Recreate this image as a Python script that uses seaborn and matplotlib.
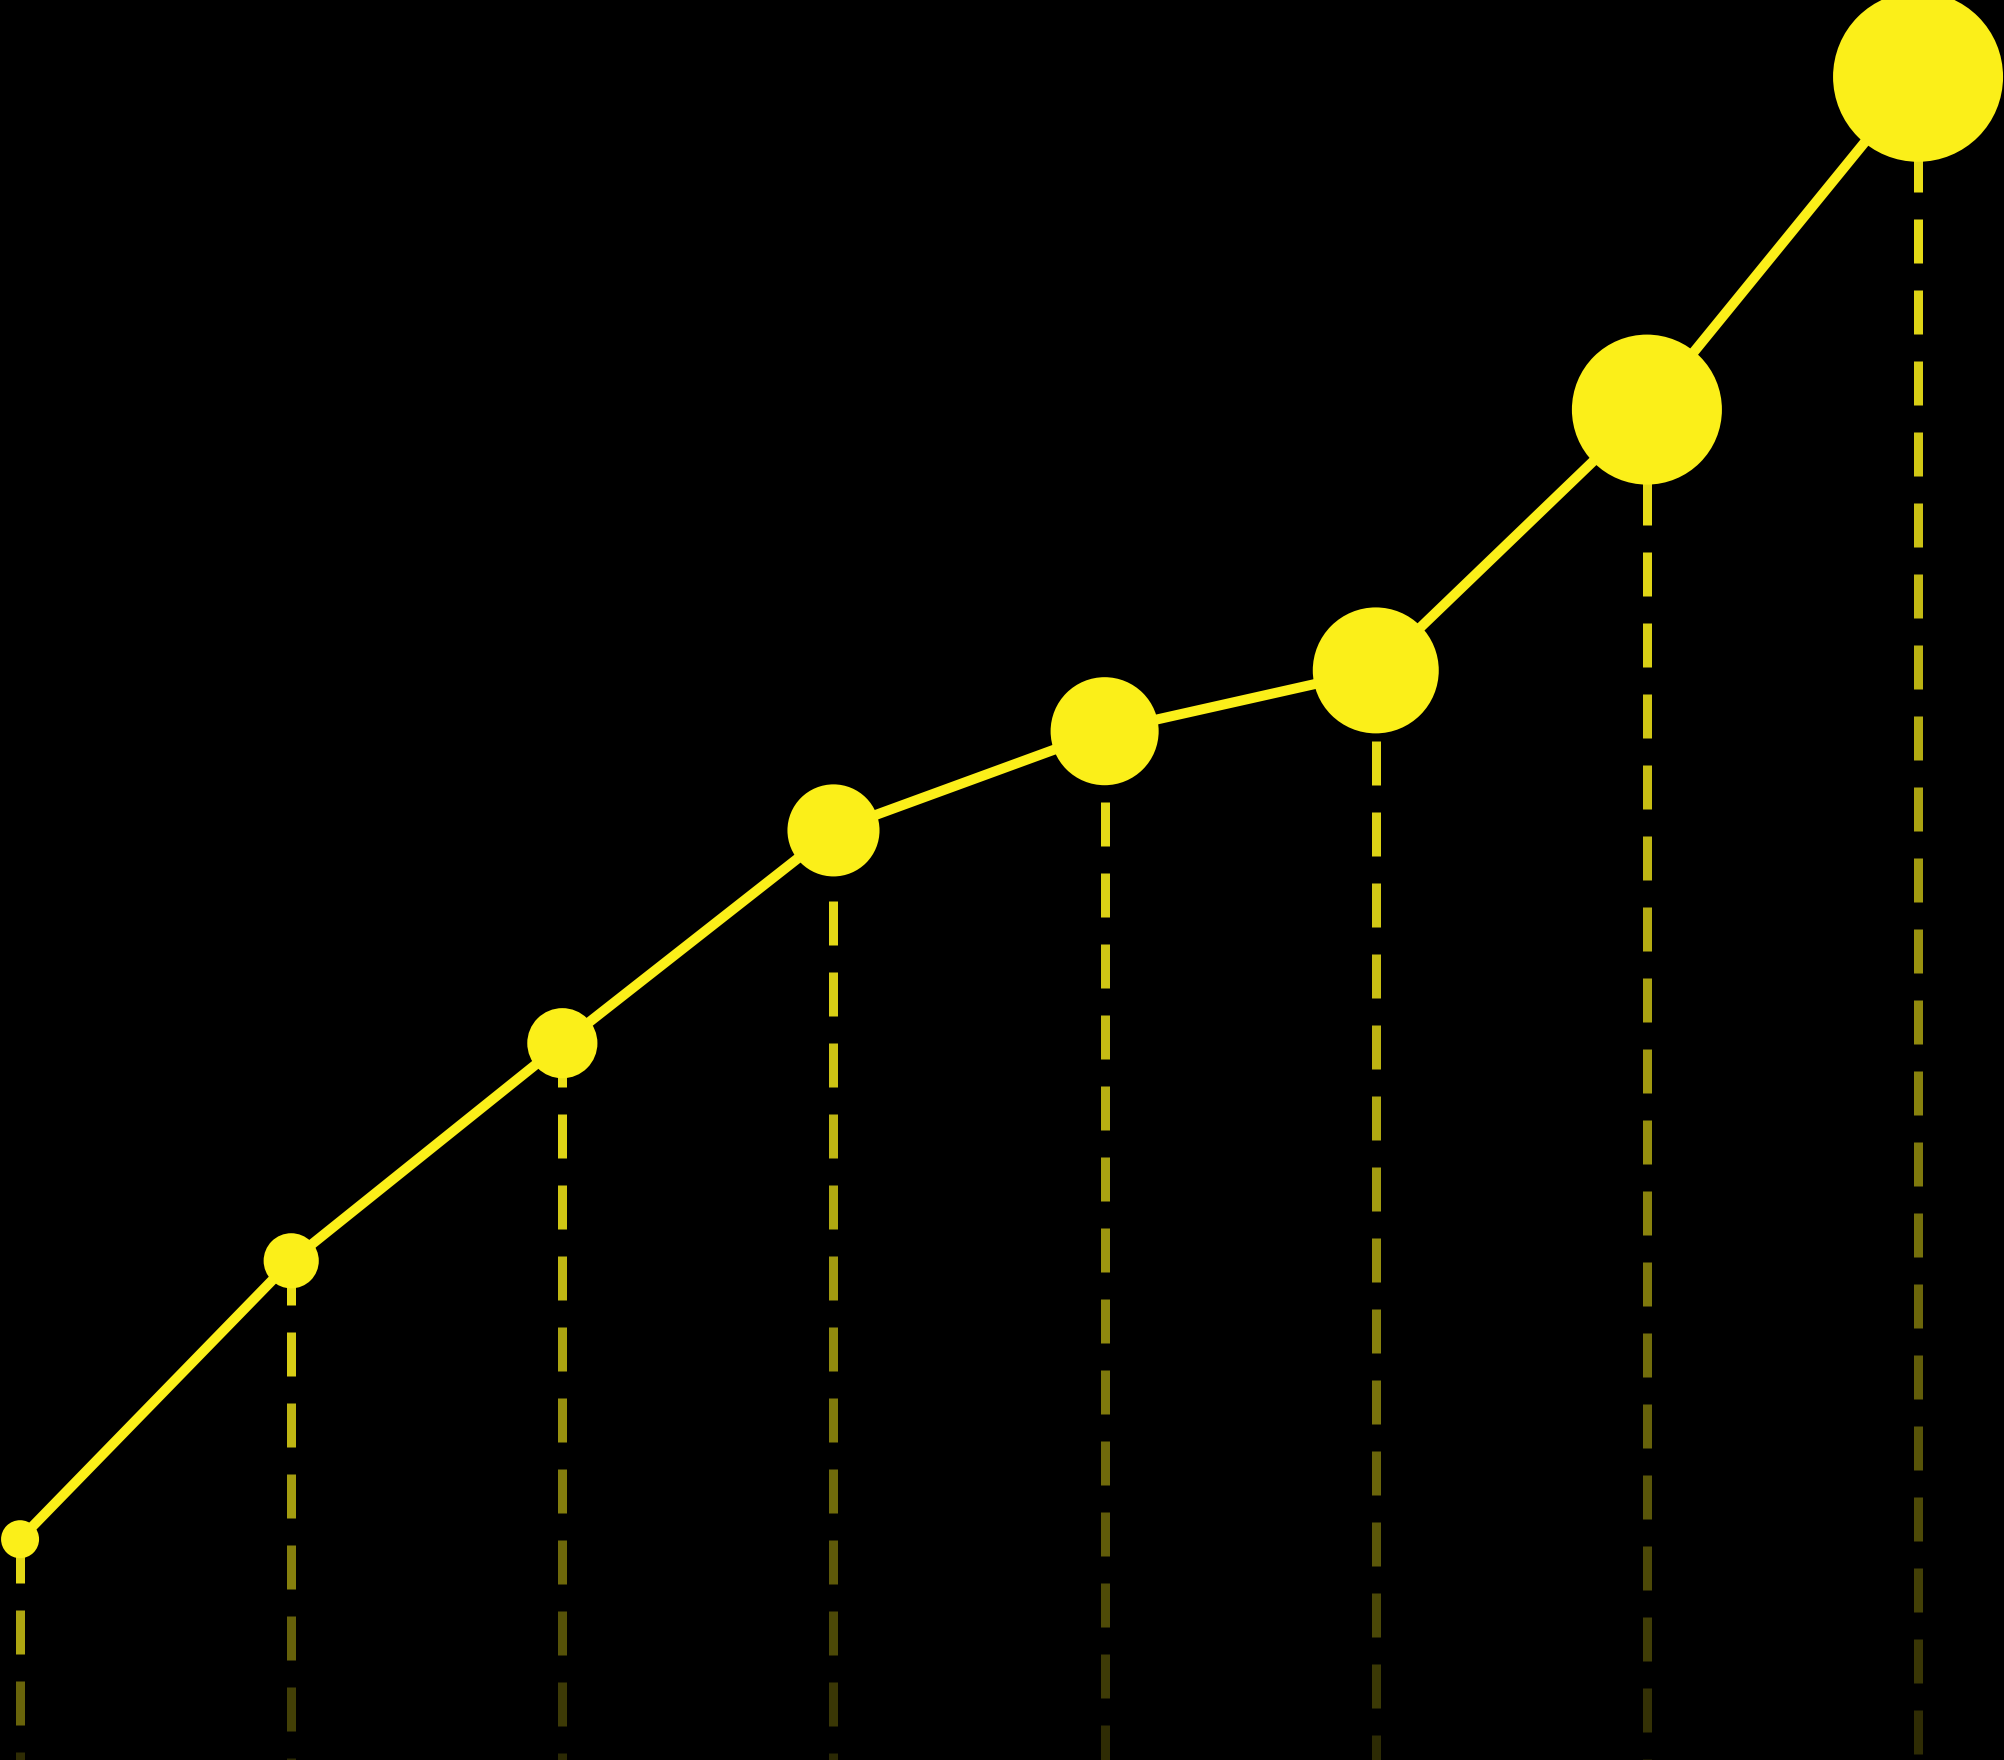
import numpy as np
import pandas as pd
import matplotlib
matplotlib.use("Agg")
import matplotlib.pyplot as plt
from matplotlib.collections import LineCollection
import seaborn as sns

# ---- data ----
steps = [0, 1, 2, 3, 4, 5, 6, 7]
values = [13.8, 31.2, 44.8, 58.1, 64.3, 68.1, 84.4, 105.2]
volume = [3.6, 7.6, 12.3, 21.2, 29.2, 39.7, 56.3, 72.3]

YELLOW = "#FBEF19"

sns.set_theme(style="dark")
plt.rcParams["font.family"] = ["DejaVu Sans"]

W, H, DPI = 2004, 1760, 100
fig = plt.figure(figsize=(W / DPI, H / DPI), dpi=DPI, facecolor="black")
ax = fig.add_axes([0, 0, 1, 1])
ax.set_facecolor("black")
YMAX = 110.0
XLIM = (-0.074, 7.317)
ax.set_xlim(*XLIM)
ax.set_ylim(0, YMAX)
ax.set_axis_off()

x = np.asarray(steps, dtype=float)
y = np.asarray(values, dtype=float)

# ---- fading dashed drop lines ----
px_per_unit = H / YMAX
dash = 44 / px_per_unit
gap = 27 / px_per_unit
segs, cols = [], []
rgb = matplotlib.colors.to_rgb(YELLOW)
for xi, yi in zip(x, y):
    top = yi
    pos = top
    while pos > 0:
        a_end = max(pos - dash, 0)
        mid = (pos + a_end) / 2
        f = (top - mid) / top
        alpha = 0.95 - 0.78 * f**1.3
        segs.append([(xi, pos), (xi, a_end)])
        cols.append((*rgb, max(alpha, 0.14)))
        pos = a_end - gap
lc = LineCollection(segs, colors=cols, linewidths=9 * 72 / DPI, capstyle="butt", zorder=1)
ax.add_collection(lc)

# ---- line and bubbles ----
df = pd.DataFrame({"step": steps, "value": values, "volume": volume})
sns.lineplot(data=df, x="step", y="value", ax=ax, color=YELLOW, linewidth=10 * 72 / DPI,
             estimator=None, zorder=2, legend=False)

s_min = (2 * 19 * 72 / DPI) ** 2
s_max = (2 * 85 * 72 / DPI) ** 2
sns.scatterplot(data=df, x="step", y="value", size="volume", sizes=(s_min, s_max),
                size_norm=(min(volume), max(volume)), color=YELLOW, linewidth=0,
                alpha=1, ax=ax, zorder=3, legend=False)

ax.set_xlim(*XLIM)
ax.set_ylim(0, YMAX)
ax.set_axis_off()
fig.savefig("out.png", dpi=DPI, facecolor="black")
